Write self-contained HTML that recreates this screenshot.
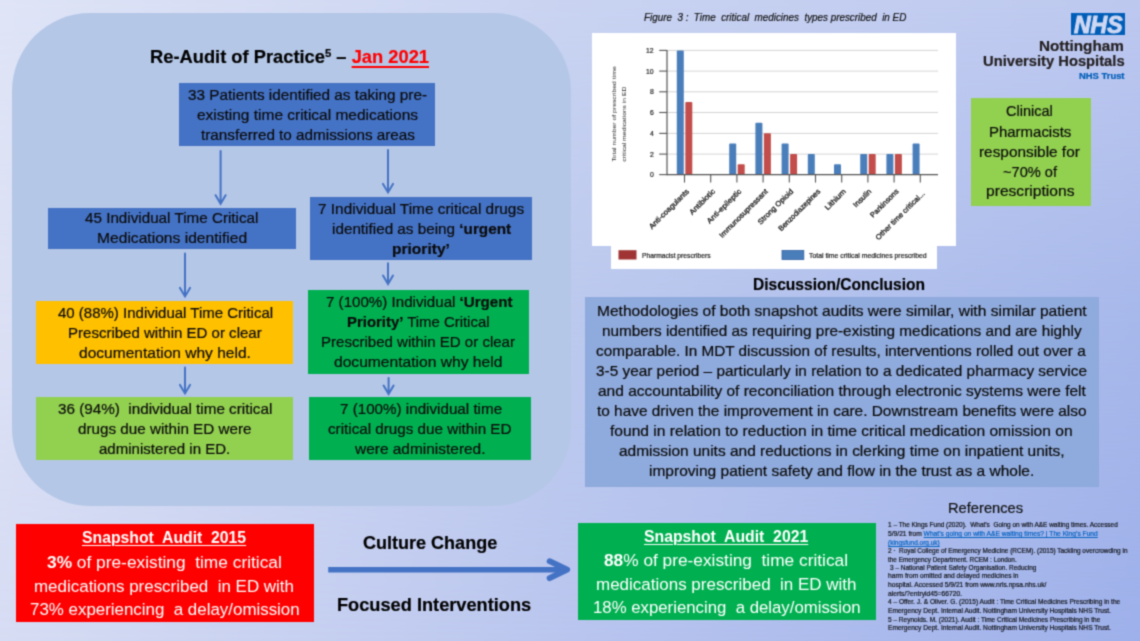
<!DOCTYPE html><html lang="en"><head><meta charset="utf-8"><title>Re-Audit of Practice &ndash; Time critical medicines in ED</title>
<style>
html,body{margin:0;padding:0;width:1140px;height:641px;overflow:hidden;}
body{width:1140px;height:641px;overflow:hidden;position:relative;font-family:"Liberation Sans", sans-serif;background:#c9d3f1;}
#clip{position:absolute;left:0;top:0;width:1140px;height:641px;overflow:clip;contain:paint;}
#sheet{position:absolute;left:-8px;top:-8px;width:1156px;height:657px;overflow:hidden;filter:url(#soft);}
#in{position:absolute;left:8px;top:8px;width:1140px;height:641px;}
#bg0,#bg1,#bg2{position:absolute;left:-8px;top:-8px;width:1156px;height:657px;}
#bg0{background:linear-gradient(to right,rgb(219,224,245) 8px,rgb(188,201,238) 578px,rgb(167,184,235) 1148px);}
#bg1{background:linear-gradient(to right,rgb(223,228,246) 8px,rgb(201,211,241) 578px,rgb(189,200,239) 1148px);-webkit-mask-image:linear-gradient(to bottom,rgba(0,0,0,1) 8px,rgba(0,0,0,0) 328px);mask-image:linear-gradient(to bottom,rgba(0,0,0,1) 8px,rgba(0,0,0,0) 328px);}
#bg2{background:linear-gradient(to right,rgb(214,220,243) 8px,rgb(185,197,238) 578px,rgb(158,176,234) 1148px);-webkit-mask-image:linear-gradient(to bottom,rgba(0,0,0,0) 328px,rgba(0,0,0,1) 649px);mask-image:linear-gradient(to bottom,rgba(0,0,0,0) 328px,rgba(0,0,0,1) 649px);}
.bx{position:absolute;}
.t{position:absolute;white-space:pre;line-height:1;transform-origin:0 0;margin:0;-webkit-text-stroke:0.2px;}
.r{position:absolute;white-space:pre;line-height:1;margin:0;-webkit-text-stroke:0.3px;}
svg{position:absolute;left:0;top:0;}
</style></head><body>
<svg width="0" height="0" style="position:absolute"><defs><filter id="soft" x="0" y="0" width="100%" height="100%" color-interpolation-filters="sRGB"><feConvolveMatrix order="3" kernelMatrix="1 4 1 4 12 4 1 4 1" edgeMode="duplicate" preserveAlpha="true"/></filter></defs></svg>
<div id="clip"><div id="sheet"><div id="in">
<div id="bg0"></div><div id="bg1"></div><div id="bg2"></div>
<div class="bx" style="left:12.0px;top:13.0px;width:558.8px;height:493.0px;background:#b4c7e7;border-radius:78px;"></div>
<div class="bx" style="left:179.3px;top:83.0px;width:255.9px;height:63.2px;background:#4472c4;"></div>
<div class="bx" style="left:48.0px;top:207.6px;width:248.3px;height:41.9px;background:#4472c4;"></div>
<div class="bx" style="left:310.4px;top:196.5px;width:221.2px;height:63.7px;background:#4472c4;"></div>
<div class="bx" style="left:36.4px;top:300.7px;width:256.8px;height:63.3px;background:#ffc000;"></div>
<div class="bx" style="left:307.5px;top:290.2px;width:221.9px;height:84.0px;background:#00b050;"></div>
<div class="bx" style="left:36.4px;top:397.2px;width:256.8px;height:63.2px;background:#92d050;"></div>
<div class="bx" style="left:309.1px;top:397.2px;width:221.7px;height:63.2px;background:#00b050;"></div>
<div class="bx" style="left:16.3px;top:524.4px;width:298.2px;height:97.2px;background:#ff0000;"></div>
<div class="bx" style="left:578.2px;top:522.9px;width:298.2px;height:97.4px;background:#00b050;"></div>
<div class="bx" style="left:971.3px;top:98.0px;width:120.0px;height:108.3px;background:#92d050;"></div>
<div class="bx" style="left:585.1px;top:297.3px;width:514.2px;height:189.9px;background:#8faadc;"></div>
<div class="bx" style="left:592.0px;top:33.0px;width:364.2px;height:213.3px;background:#fff;"></div>
<div class="bx" style="left:611.0px;top:246.0px;width:326.2px;height:22.5px;background:#fff;"></div>
<div class="bx" style="left:1071.3px;top:13.4px;width:53.7px;height:21.2px;background:#005eb8;"></div>
<svg width="1140" height="641" viewBox="0 0 1140 641">
<path d="M220.6 151.0 V203.5 M215.6 195.2 L220.6 203.7 L225.6 195.2" fill="none" stroke="#4472c4" stroke-width="2.0" stroke-linecap="round" stroke-linejoin="miter"/>
<path d="M388.0 150.0 V192.2 M383.0 183.9 L388.0 192.4 L393.0 183.9" fill="none" stroke="#4472c4" stroke-width="2.0" stroke-linecap="round" stroke-linejoin="miter"/>
<path d="M185.0 253.5 V296.2 M180.0 287.9 L185.0 296.4 L190.0 287.9" fill="none" stroke="#4472c4" stroke-width="2.0" stroke-linecap="round" stroke-linejoin="miter"/>
<path d="M388.0 263.3 V283.8 M383.0 275.5 L388.0 284.0 L393.0 275.5" fill="none" stroke="#4472c4" stroke-width="2.0" stroke-linecap="round" stroke-linejoin="miter"/>
<path d="M185.0 367.5 V393.2 M180.0 384.9 L185.0 393.4 L190.0 384.9" fill="none" stroke="#4472c4" stroke-width="2.0" stroke-linecap="round" stroke-linejoin="miter"/>
<path d="M388.6 378.0 V393.8 M383.6 385.5 L388.6 394.0 L393.6 385.5" fill="none" stroke="#4472c4" stroke-width="2.0" stroke-linecap="round" stroke-linejoin="miter"/>
<path d="M328.2 569.7 H566" fill="none" stroke="#4472c4" stroke-width="5.6"/>
<path d="M549.6 561.2 L567.2 569.7 L549.6 578.2" fill="none" stroke="#4472c4" stroke-width="5.8" stroke-linecap="round" stroke-linejoin="round"/>
<path d="M667.0 50.4 H938.0" stroke="#d4d4d4" stroke-width="1"/>
<path d="M667.0 71.1 H938.0" stroke="#d4d4d4" stroke-width="1"/>
<path d="M667.0 91.8 H938.0" stroke="#d4d4d4" stroke-width="1"/>
<path d="M667.0 112.5 H938.0" stroke="#d4d4d4" stroke-width="1"/>
<path d="M667.0 133.4 H938.0" stroke="#d4d4d4" stroke-width="1"/>
<path d="M667.0 154.1 H938.0" stroke="#d4d4d4" stroke-width="1"/>
<path d="M659.2 50.4 H667.0" stroke="#555" stroke-width="1.1"/>
<path d="M659.2 71.1 H667.0" stroke="#555" stroke-width="1.1"/>
<path d="M659.2 91.8 H667.0" stroke="#555" stroke-width="1.1"/>
<path d="M659.2 112.5 H667.0" stroke="#555" stroke-width="1.1"/>
<path d="M659.2 133.4 H667.0" stroke="#555" stroke-width="1.1"/>
<path d="M659.2 154.1 H667.0" stroke="#555" stroke-width="1.1"/>
<path d="M659.2 174.6 H667.0" stroke="#555" stroke-width="1.1"/>
<rect x="676.8" y="50.4" width="7" height="124.2" rx="1" fill="#4a7ebb"/>
<rect x="685.3" y="102.1" width="7" height="72.5" rx="1" fill="#c24d4a"/>
<path d="M684.5 174.6 V182.6" stroke="#555" stroke-width="1.1"/>
<path d="M710.7 174.6 V182.6" stroke="#555" stroke-width="1.1"/>
<rect x="729.2" y="143.6" width="7" height="31.0" rx="1" fill="#4a7ebb"/>
<rect x="737.7" y="164.2" width="7" height="10.3" rx="1" fill="#c24d4a"/>
<path d="M736.9 174.6 V182.6" stroke="#555" stroke-width="1.1"/>
<rect x="755.4" y="122.8" width="7" height="51.8" rx="1" fill="#4a7ebb"/>
<rect x="763.9" y="133.2" width="7" height="41.4" rx="1" fill="#c24d4a"/>
<path d="M763.1 174.6 V182.6" stroke="#555" stroke-width="1.1"/>
<rect x="781.6" y="143.6" width="7" height="31.0" rx="1" fill="#4a7ebb"/>
<rect x="790.1" y="153.9" width="7" height="20.7" rx="1" fill="#c24d4a"/>
<path d="M789.3 174.6 V182.6" stroke="#555" stroke-width="1.1"/>
<rect x="807.8" y="153.9" width="7" height="20.7" rx="1" fill="#4a7ebb"/>
<path d="M815.5 174.6 V182.6" stroke="#555" stroke-width="1.1"/>
<rect x="834.0" y="164.2" width="7" height="10.3" rx="1" fill="#4a7ebb"/>
<path d="M841.7 174.6 V182.6" stroke="#555" stroke-width="1.1"/>
<rect x="860.2" y="153.9" width="7" height="20.7" rx="1" fill="#4a7ebb"/>
<rect x="868.7" y="153.9" width="7" height="20.7" rx="1" fill="#c24d4a"/>
<path d="M867.9 174.6 V182.6" stroke="#555" stroke-width="1.1"/>
<rect x="886.4" y="153.9" width="7" height="20.7" rx="1" fill="#4a7ebb"/>
<rect x="894.9" y="153.9" width="7" height="20.7" rx="1" fill="#c24d4a"/>
<path d="M894.1 174.6 V182.6" stroke="#555" stroke-width="1.1"/>
<rect x="912.6" y="143.6" width="7" height="31.0" rx="1" fill="#4a7ebb"/>
<path d="M920.3 174.6 V182.6" stroke="#555" stroke-width="1.1"/>
<path d="M667.0 50.0 V175.2" stroke="#555" stroke-width="1.2"/>
<path d="M667.0 174.6 H938.0" stroke="#555" stroke-width="1.3"/>
<rect x="618.5" y="250.2" width="18" height="9.3" fill="#a03334"/>
<rect x="782" y="250.5" width="21.8" height="9" fill="#4a7ebb" stroke="#2f5f9e" stroke-width="0.8"/>
</svg>
<div class="t" id="t0" style="left:150.00px;top:48.00px;font-size:18.60px;color:#000;font-weight:bold;font-style:normal;transform:scaleX(0.9846);">Re-Audit of Practice<span style="font-size:62%;position:relative;top:-0.5em">5</span> &ndash; <span style="color:#ff0000;text-decoration:underline;text-decoration-thickness:1.5px;text-underline-offset:3px">Jan 2021</span></div>
<div class="t" id="t1" style="left:188.30px;top:88.00px;font-size:14.80px;color:#0b0b0b;font-weight:normal;font-style:normal;transform:scaleX(1.0340);">33 Patients identified as taking pre-</div>
<div class="t" id="t2" style="left:197.00px;top:108.00px;font-size:14.80px;color:#0b0b0b;font-weight:normal;font-style:normal;transform:scaleX(1.0457);">existing time critical medications</div>
<div class="t" id="t3" style="left:200.50px;top:128.00px;font-size:14.80px;color:#0b0b0b;font-weight:normal;font-style:normal;transform:scaleX(1.0325);">transferred to admissions areas</div>
<div class="t" id="t4" style="left:85.20px;top:211.00px;font-size:14.80px;color:#0b0b0b;font-weight:normal;font-style:normal;transform:scaleX(1.0285);">45 Individual Time Critical</div>
<div class="t" id="t5" style="left:96.80px;top:231.00px;font-size:14.80px;color:#0b0b0b;font-weight:normal;font-style:normal;transform:scaleX(1.0554);">Medications identified</div>
<div class="t" id="t6" style="left:317.90px;top:202.00px;font-size:14.80px;color:#0b0b0b;font-weight:normal;font-style:normal;transform:scaleX(1.0398);">7 Individual Time critical drugs</div>
<div class="t" id="t7" style="left:331.60px;top:222.00px;font-size:14.80px;color:#0b0b0b;font-weight:normal;font-style:normal;transform:scaleX(1.0319);">identified as being <b>&lsquo;urgent</b></div>
<div class="t" id="t8" style="left:392.10px;top:242.00px;font-size:14.80px;color:#0b0b0b;font-weight:normal;font-style:normal;transform:scaleX(1.0509);"><b>priority&rsquo;</b></div>
<div class="t" id="t9" style="left:57.70px;top:306.00px;font-size:14.80px;color:#0b0b0b;font-weight:normal;font-style:normal;transform:scaleX(1.0138);">40 (88%) Individual Time Critical</div>
<div class="t" id="t10" style="left:68.30px;top:326.00px;font-size:14.80px;color:#0b0b0b;font-weight:normal;font-style:normal;transform:scaleX(1.0152);">Prescribed within ED or clear</div>
<div class="t" id="t11" style="left:78.90px;top:346.00px;font-size:14.80px;color:#0b0b0b;font-weight:normal;font-style:normal;transform:scaleX(1.0501);">documentation why held.</div>
<div class="t" id="t12" style="left:325.80px;top:295.00px;font-size:14.80px;color:#0b0b0b;font-weight:normal;font-style:normal;transform:scaleX(1.0215);">7 (100%) Individual <b>&lsquo;Urgent</b></div>
<div class="t" id="t13" style="left:347.00px;top:315.00px;font-size:14.80px;color:#0b0b0b;font-weight:normal;font-style:normal;transform:scaleX(1.0075);"><b>Priority&rsquo;</b> Time Critical</div>
<div class="t" id="t14" style="left:321.00px;top:335.00px;font-size:14.80px;color:#0b0b0b;font-weight:normal;font-style:normal;transform:scaleX(1.0168);">Prescribed within ED or clear</div>
<div class="t" id="t15" style="left:334.30px;top:355.00px;font-size:14.80px;color:#0b0b0b;font-weight:normal;font-style:normal;transform:scaleX(1.0552);">documentation why held</div>
<div class="t" id="t16" style="left:57.70px;top:402.00px;font-size:14.80px;color:#0b0b0b;font-weight:normal;font-style:normal;transform:scaleX(1.0300);">36 (94%)&nbsp; individual time critical</div>
<div class="t" id="t17" style="left:77.80px;top:422.00px;font-size:14.80px;color:#0b0b0b;font-weight:normal;font-style:normal;transform:scaleX(1.0290);">drugs due within ED were</div>
<div class="t" id="t18" style="left:99.00px;top:442.00px;font-size:14.80px;color:#0b0b0b;font-weight:normal;font-style:normal;transform:scaleX(1.0168);">administered in ED.</div>
<div class="t" id="t19" style="left:339.60px;top:402.00px;font-size:14.80px;color:#0b0b0b;font-weight:normal;font-style:normal;transform:scaleX(1.0265);">7 (100%) individual time</div>
<div class="t" id="t20" style="left:328.00px;top:422.00px;font-size:14.80px;color:#0b0b0b;font-weight:normal;font-style:normal;transform:scaleX(1.0282);">critical drugs due within ED</div>
<div class="t" id="t21" style="left:355.00px;top:442.00px;font-size:14.80px;color:#0b0b0b;font-weight:normal;font-style:normal;transform:scaleX(1.0439);">were administered.</div>
<div class="t" id="t22" style="left:82.40px;top:530.00px;font-size:16.80px;color:#fff;font-weight:bold;font-style:normal;transform:scaleX(0.9394);-webkit-text-stroke:0;"><span style="text-decoration:underline;text-decoration-thickness:1.3px;text-underline-offset:2px">Snapshot&nbsp; Audit&nbsp; 2015</span></div>
<div class="t" id="t23" style="left:46.80px;top:555.00px;font-size:16.80px;color:#fff;font-weight:normal;font-style:normal;transform:scaleX(1.0317);-webkit-text-stroke:0;"><b>3%</b> of pre-existing&nbsp; time critical</div>
<div class="t" id="t24" style="left:34.20px;top:579.00px;font-size:16.80px;color:#fff;font-weight:normal;font-style:normal;transform:scaleX(1.0100);-webkit-text-stroke:0;">medications prescribed&nbsp; in ED with</div>
<div class="t" id="t25" style="left:30.30px;top:602.00px;font-size:16.80px;color:#fff;font-weight:normal;font-style:normal;transform:scaleX(1.0073);-webkit-text-stroke:0;">73% experiencing&nbsp; a delay/omission</div>
<div class="t" id="t26" style="left:644.20px;top:529.00px;font-size:16.80px;color:#fff;font-weight:bold;font-style:normal;transform:scaleX(0.9400);-webkit-text-stroke:0;"><span style="text-decoration:underline;text-decoration-thickness:1.3px;text-underline-offset:2px">Snapshot&nbsp; Audit&nbsp; 2021</span></div>
<div class="t" id="t27" style="left:604.20px;top:553.00px;font-size:16.80px;color:#fff;font-weight:normal;font-style:normal;transform:scaleX(1.0299);-webkit-text-stroke:0;"><b>88</b>% of pre-existing&nbsp; time critical</div>
<div class="t" id="t28" style="left:596.30px;top:577.00px;font-size:16.80px;color:#fff;font-weight:normal;font-style:normal;transform:scaleX(1.0120);-webkit-text-stroke:0;">medications prescribed&nbsp; in ED with</div>
<div class="t" id="t29" style="left:593.20px;top:600.00px;font-size:16.80px;color:#fff;font-weight:normal;font-style:normal;transform:scaleX(0.9995);-webkit-text-stroke:0;">18% experiencing&nbsp; a delay/omission</div>
<div class="t" id="t30" style="left:362.90px;top:534.00px;font-size:18.60px;color:#000;font-weight:bold;font-style:normal;transform:scaleX(0.9694);">Culture Change</div>
<div class="t" id="t31" style="left:337.40px;top:596.00px;font-size:18.60px;color:#000;font-weight:bold;font-style:normal;transform:scaleX(0.9790);">Focused Interventions</div>
<div class="t" id="t32" style="left:644.20px;top:12.00px;font-size:11.00px;color:#111;font-weight:normal;font-style:italic;transform:scaleX(0.8960);">Figure&nbsp; 3 :&nbsp; Time&nbsp; critical&nbsp; medicines&nbsp; types prescribed&nbsp; in ED</div>
<div class="t" id="t33" style="left:1039.40px;top:39.00px;font-size:14.00px;color:#231f20;font-weight:bold;font-style:normal;transform:scaleX(1.0905);">Nottingham</div>
<div class="t" id="t34" style="left:982.60px;top:54.00px;font-size:14.00px;color:#231f20;font-weight:bold;font-style:normal;transform:scaleX(1.0519);">University Hospitals</div>
<div class="t" id="t35" style="left:1078.70px;top:72.00px;font-size:8.40px;color:#005eb8;font-weight:bold;font-style:normal;transform:scaleX(1.1239);">NHS Trust</div>
<div class="t" id="t36" style="left:1073.60px;top:14.00px;font-size:23.20px;color:#cfd8f3;font-weight:bold;font-style:italic;transform:scaleX(0.9925);-webkit-text-stroke:1.0px #cfd8f3;">NHS</div>
<div class="t" id="t37" style="left:1006.40px;top:104.00px;font-size:14.80px;color:#0b0b0b;font-weight:normal;font-style:normal;transform:scaleX(0.9811);">Clinical</div>
<div class="t" id="t38" style="left:989.30px;top:125.00px;font-size:14.80px;color:#0b0b0b;font-weight:normal;font-style:normal;transform:scaleX(1.0110);">Pharmacists</div>
<div class="t" id="t39" style="left:979.40px;top:145.00px;font-size:14.80px;color:#0b0b0b;font-weight:normal;font-style:normal;transform:scaleX(1.0385);">responsible for</div>
<div class="t" id="t40" style="left:1003.20px;top:165.00px;font-size:14.80px;color:#0b0b0b;font-weight:normal;font-style:normal;transform:scaleX(0.9869);">~70% of</div>
<div class="t" id="t41" style="left:985.80px;top:184.00px;font-size:14.80px;color:#0b0b0b;font-weight:normal;font-style:normal;transform:scaleX(1.0549);">prescriptions</div>
<div class="t" id="t42" style="left:752.80px;top:277.00px;font-size:16.60px;color:#000;font-weight:bold;font-style:normal;transform:scaleX(0.9374);">Discussion/Conclusion</div>
<div class="t" id="t43" style="left:596.80px;top:304.00px;font-size:14.80px;color:#0b0b0b;font-weight:normal;font-style:normal;transform:scaleX(1.0519);">Methodologies of both snapshot audits were similar, with similar patient</div>
<div class="t" id="t44" style="left:601.50px;top:324.00px;font-size:14.80px;color:#0b0b0b;font-weight:normal;font-style:normal;transform:scaleX(1.0359);">numbers identified as requiring pre-existing medications and are highly</div>
<div class="t" id="t45" style="left:596.30px;top:344.00px;font-size:14.80px;color:#0b0b0b;font-weight:normal;font-style:normal;transform:scaleX(1.0343);">comparable. In MDT discussion of results, interventions rolled out over a</div>
<div class="t" id="t46" style="left:596.20px;top:364.00px;font-size:14.80px;color:#0b0b0b;font-weight:normal;font-style:normal;transform:scaleX(1.0382);">3-5 year period &ndash; particularly in relation to a dedicated pharmacy service</div>
<div class="t" id="t47" style="left:597.60px;top:384.00px;font-size:14.80px;color:#0b0b0b;font-weight:normal;font-style:normal;transform:scaleX(1.0480);">and accountability of reconciliation through electronic systems were felt</div>
<div class="t" id="t48" style="left:596.80px;top:404.00px;font-size:14.80px;color:#0b0b0b;font-weight:normal;font-style:normal;transform:scaleX(1.0405);">to have driven the improvement in care. Downstream benefits were also</div>
<div class="t" id="t49" style="left:610.20px;top:424.00px;font-size:14.80px;color:#0b0b0b;font-weight:normal;font-style:normal;transform:scaleX(1.0533);">found in relation to reduction in time critical medication omission on</div>
<div class="t" id="t50" style="left:619.00px;top:444.00px;font-size:14.80px;color:#0b0b0b;font-weight:normal;font-style:normal;transform:scaleX(1.0459);">admission units and reductions in clerking time on inpatient units,</div>
<div class="t" id="t51" style="left:649.00px;top:464.00px;font-size:14.80px;color:#0b0b0b;font-weight:normal;font-style:normal;transform:scaleX(1.0480);">improving patient safety and flow in the trust as a whole.</div>
<div class="t" id="t52" style="left:947.70px;top:501.00px;font-size:14.60px;color:#111;font-weight:normal;font-style:normal;transform:scaleX(1.0062);">References</div>
<div class="t" id="t53" style="left:888.20px;top:522.00px;font-size:6.60px;color:#14161c;font-weight:normal;font-style:normal;transform:scaleX(0.9807);">1 &ndash; The Kings Fund (2020).&nbsp; What&rsquo;s&nbsp; Going on with A&amp;E waiting times. Accessed</div>
<div class="t" id="t54" style="left:888.20px;top:531.00px;font-size:6.60px;color:#14161c;font-weight:normal;font-style:normal;transform:scaleX(1.0118);">5/9/21 from <span style="color:#0563c1;text-decoration:underline;text-decoration-thickness:0.5px;text-underline-offset:1px">What&rsquo;s going on with A&amp;E waiting times? | The King&rsquo;s Fund</span></div>
<div class="t" id="t55" style="left:888.20px;top:540.00px;font-size:6.60px;color:#14161c;font-weight:normal;font-style:normal;transform:scaleX(0.9795);"><span style="color:#0563c1;text-decoration:underline;text-decoration-thickness:0.5px;text-underline-offset:1px">(kingsfund.org.uk)</span></div>
<div class="t" id="t56" style="left:888.20px;top:548.00px;font-size:6.60px;color:#14161c;font-weight:normal;font-style:normal;transform:scaleX(0.9774);">2 &middot;&nbsp; Royal College of Emergency Medicine (RCEM). (2015) Tackling overcrowding in</div>
<div class="t" id="t57" style="left:888.20px;top:557.00px;font-size:6.60px;color:#14161c;font-weight:normal;font-style:normal;transform:scaleX(0.9673);">the Emergency Department. RCEM : London.</div>
<div class="t" id="t58" style="left:890.10px;top:565.00px;font-size:6.60px;color:#14161c;font-weight:normal;font-style:normal;transform:scaleX(0.9837);">3 &ndash; National Patient Safety Organisation. Reducing</div>
<div class="t" id="t59" style="left:888.20px;top:573.00px;font-size:6.60px;color:#14161c;font-weight:normal;font-style:normal;transform:scaleX(1.0058);">harm from omitted and delayed medicines in</div>
<div class="t" id="t60" style="left:888.20px;top:582.00px;font-size:6.60px;color:#14161c;font-weight:normal;font-style:normal;transform:scaleX(1.0068);">hospital. Accessed 5/9/21 from www.nrls.npsa.nhs.uk/</div>
<div class="t" id="t61" style="left:888.20px;top:591.00px;font-size:6.60px;color:#14161c;font-weight:normal;font-style:normal;transform:scaleX(1.0195);">alerts/?entryid45=66720.</div>
<div class="t" id="t62" style="left:888.20px;top:599.00px;font-size:6.60px;color:#14161c;font-weight:normal;font-style:normal;transform:scaleX(0.9968);">4 &ndash; Offer. J. &amp; Oliver. G. (2015) Audit : Time Critical Medicines Prescribing in the</div>
<div class="t" id="t63" style="left:888.20px;top:608.00px;font-size:6.60px;color:#14161c;font-weight:normal;font-style:normal;transform:scaleX(1.0020);">Emergency Dept. Internal Audit. Nottingham University Hospitals NHS Trust.</div>
<div class="t" id="t64" style="left:888.20px;top:617.00px;font-size:6.60px;color:#14161c;font-weight:normal;font-style:normal;transform:scaleX(0.9885);">5 &ndash; Reynolds. M. (2021). Audit : Time Critical Medicines Prescribing in the</div>
<div class="t" id="t65" style="left:888.20px;top:625.00px;font-size:6.60px;color:#14161c;font-weight:normal;font-style:normal;transform:scaleX(1.0020);">Emergency Dept. Internal Audit. Nottingham University Hospitals NHS Trust.</div>
<div class="t" id="t66" style="left:646.40px;top:47.00px;font-size:7.20px;color:#1c1c1c;font-weight:normal;font-style:normal;transform:scaleX(0.9500);">12</div>
<div class="t" id="t67" style="left:646.40px;top:68.00px;font-size:7.20px;color:#1c1c1c;font-weight:normal;font-style:normal;transform:scaleX(0.9500);">10</div>
<div class="t" id="t68" style="left:650.20px;top:88.00px;font-size:7.20px;color:#1c1c1c;font-weight:normal;font-style:normal;transform:scaleX(0.9500);">8</div>
<div class="t" id="t69" style="left:650.20px;top:109.00px;font-size:7.20px;color:#1c1c1c;font-weight:normal;font-style:normal;transform:scaleX(0.9500);">6</div>
<div class="t" id="t70" style="left:650.20px;top:130.00px;font-size:7.20px;color:#1c1c1c;font-weight:normal;font-style:normal;transform:scaleX(0.9500);">4</div>
<div class="t" id="t71" style="left:650.20px;top:151.00px;font-size:7.20px;color:#1c1c1c;font-weight:normal;font-style:normal;transform:scaleX(0.9500);">2</div>
<div class="t" id="t72" style="left:650.20px;top:171.00px;font-size:7.20px;color:#1c1c1c;font-weight:normal;font-style:normal;transform:scaleX(0.9500);">0</div>
<div class="t" id="t73" style="left:641.50px;top:253.00px;font-size:6.60px;color:#222;font-weight:normal;font-style:normal;transform:scaleX(1.0160);">Pharmacist prescribers</div>
<div class="t" id="t74" style="left:809.40px;top:253.00px;font-size:6.60px;color:#222;font-weight:normal;font-style:normal;transform:scaleX(1.0419);">Total time critical medicines prescribed</div>
<div class="r" id="r0" style="right:451.20px;top:185.30px;font-size:7.40px;color:#151515;transform-origin:100% 50%;transform:translate(-1.1px,1.6px) rotate(-45deg) scaleX(1.0429);">Anti-coagulants</div>
<div class="r" id="r1" style="right:424.70px;top:185.30px;font-size:7.40px;color:#151515;transform-origin:100% 50%;transform:translate(-1.1px,1.6px) rotate(-45deg) scaleX(1.0949);">Antibiotic</div>
<div class="r" id="r2" style="right:398.70px;top:185.30px;font-size:7.40px;color:#151515;transform-origin:100% 50%;transform:translate(-1.1px,1.6px) rotate(-45deg) scaleX(1.0687);">Anti-epileptic</div>
<div class="r" id="r3" style="right:372.50px;top:185.30px;font-size:7.40px;color:#151515;transform-origin:100% 50%;transform:translate(-1.1px,1.6px) rotate(-45deg) scaleX(1.0400);">Immunosupressant</div>
<div class="r" id="r4" style="right:346.50px;top:185.30px;font-size:7.40px;color:#151515;transform-origin:100% 50%;transform:translate(-1.1px,1.6px) rotate(-45deg) scaleX(1.0333);">Strong Opioid</div>
<div class="r" id="r5" style="right:320.00px;top:185.30px;font-size:7.40px;color:#151515;transform-origin:100% 50%;transform:translate(-1.1px,1.6px) rotate(-45deg) scaleX(0.9954);">Benzodiazepines</div>
<div class="r" id="r6" style="right:294.00px;top:185.30px;font-size:7.40px;color:#151515;transform-origin:100% 50%;transform:translate(-1.1px,1.6px) rotate(-45deg) scaleX(1.1009);">Lithium</div>
<div class="r" id="r7" style="right:268.20px;top:185.30px;font-size:7.40px;color:#151515;transform-origin:100% 50%;transform:translate(-1.1px,1.6px) rotate(-45deg) scaleX(1.0472);">Insulin</div>
<div class="r" id="r8" style="right:241.30px;top:185.30px;font-size:7.40px;color:#151515;transform-origin:100% 50%;transform:translate(-1.1px,1.6px) rotate(-45deg) scaleX(1.0107);">Parkinsons</div>
<div class="r" id="r9" style="right:215.30px;top:186.80px;font-size:7.40px;color:#151515;transform-origin:100% 50%;transform:translate(-1.1px,1.6px) rotate(-45deg) scaleX(1.0351);">Other time critical...</div>
<div class="r" id="v0" style="-webkit-text-stroke:0;left:614.60px;top:159.00px;font-size:5.60px;color:#222;transform-origin:0 50%;transform:rotate(-90deg) scaleX(1.2187);">Total number of prescribed time</div>
<div class="r" id="v1" style="-webkit-text-stroke:0;left:624.60px;top:159.00px;font-size:5.60px;color:#222;transform-origin:0 50%;transform:rotate(-90deg) scaleX(1.2016);">critical medications in ED</div>
</div></div></div>
</body></html>
